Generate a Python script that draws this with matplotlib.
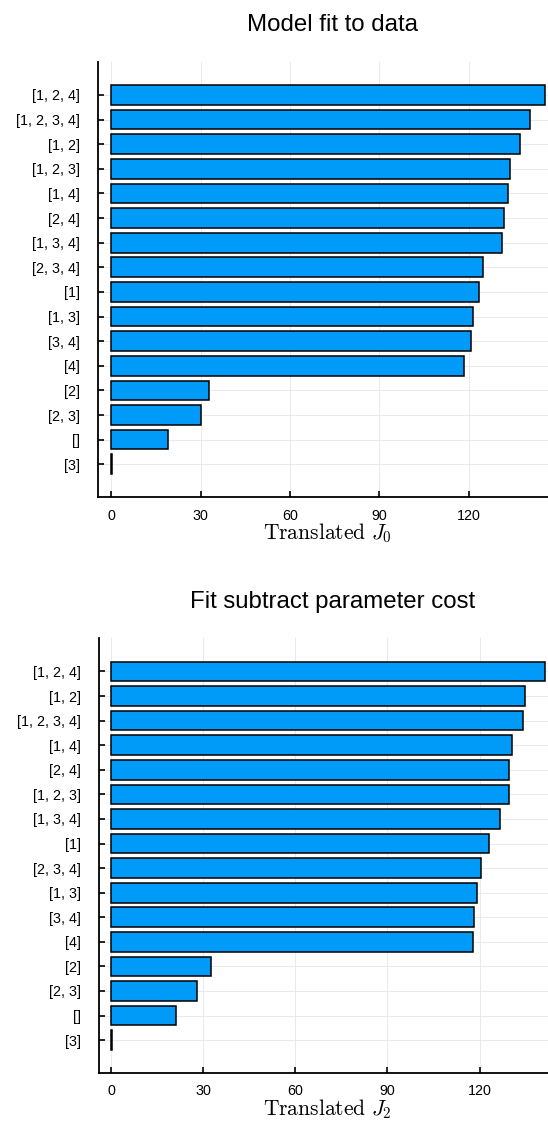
import numpy as np
import matplotlib
matplotlib.use("Agg")
import matplotlib.pyplot as plt

plt.rcParams['font.family'] = ['Liberation Sans', 'DejaVu Sans']
plt.rcParams['mathtext.fontset'] = 'cm'

# top panel, listed from top to bottom
labels_j0 = ['[1, 2, 4]', '[1, 2, 3, 4]', '[1, 2]', '[1, 2, 3]', '[1, 4]', '[2, 4]',
             '[1, 3, 4]', '[2, 3, 4]', '[1]', '[1, 3]', '[3, 4]', '[4]', '[2]',
             '[2, 3]', '[]', '[3]']
values_j0 = [145.6, 140.4, 137.1, 133.9, 133.0, 131.9, 131.0, 124.7, 123.3, 121.5,
             120.7, 118.2, 32.7, 30.2, 19.2, 0.3]

# bottom panel, listed from top to bottom
labels_j2 = ['[1, 2, 4]', '[1, 2]', '[1, 2, 3, 4]', '[1, 4]', '[2, 4]', '[1, 2, 3]',
             '[1, 3, 4]', '[1]', '[2, 3, 4]', '[1, 3]', '[3, 4]', '[4]', '[2]',
             '[2, 3]', '[]', '[3]']
values_j2 = [141.4, 134.8, 134.1, 130.7, 129.7, 129.6, 126.8, 123.0, 120.5, 119.3,
             118.3, 118.0, 32.7, 28.1, 21.2, 0.2]

xticks = [0, 30, 60, 90, 120]

fig = plt.figure(figsize=(5.48, 11.24), dpi=100)


def draw_panel(ax, labels, values, title, xlabel, xlim):
    n = len(labels)
    pos = np.arange(n)[::-1]
    ax.barh(pos, values, height=0.8, color='#009AF9', edgecolor='black', linewidth=1.1,
            zorder=2)
    ax.set_yticks(pos)
    ax.set_yticklabels(labels)
    ax.set_xticks(xticks)
    ax.set_xlim(*xlim)
    ax.set_ylim(-1.35, n - 1 + 1.35)
    ax.grid(True, color='#e6e6e6', linewidth=0.6, zorder=0)
    ax.set_axisbelow(True)
    for side in ['top', 'right']:
        ax.spines[side].set_visible(False)
    for side in ['left', 'bottom']:
        ax.spines[side].set_linewidth(1.3)
    ax.tick_params(axis='y', direction='in', length=4, width=1.2, pad=13, labelsize=10.3)
    ax.tick_params(axis='x', direction='in', length=4, width=1.2, pad=8, labelsize=10.3)
    ax.set_title(title, fontsize=17.3, pad=22, x=0.52)
    ax.set_xlabel(xlabel, fontsize=15.5, labelpad=-1, x=0.51)


ax1 = fig.add_axes([0.1794, 0.5574, 0.8206, 0.3877])
draw_panel(ax1, labels_j0, values_j0, 'Model fit to data', r'$\mathrm{Translated}\ J_0$',
           (-4.26, 146.5))

ax2 = fig.add_axes([0.1799, 0.0451, 0.8201, 0.3870])
draw_panel(ax2, labels_j2, values_j2, 'Fit subtract parameter cost',
           r'$\mathrm{Translated}\ J_2$', (-4.07, 142.3))

fig.savefig('out.png', dpi=100)
